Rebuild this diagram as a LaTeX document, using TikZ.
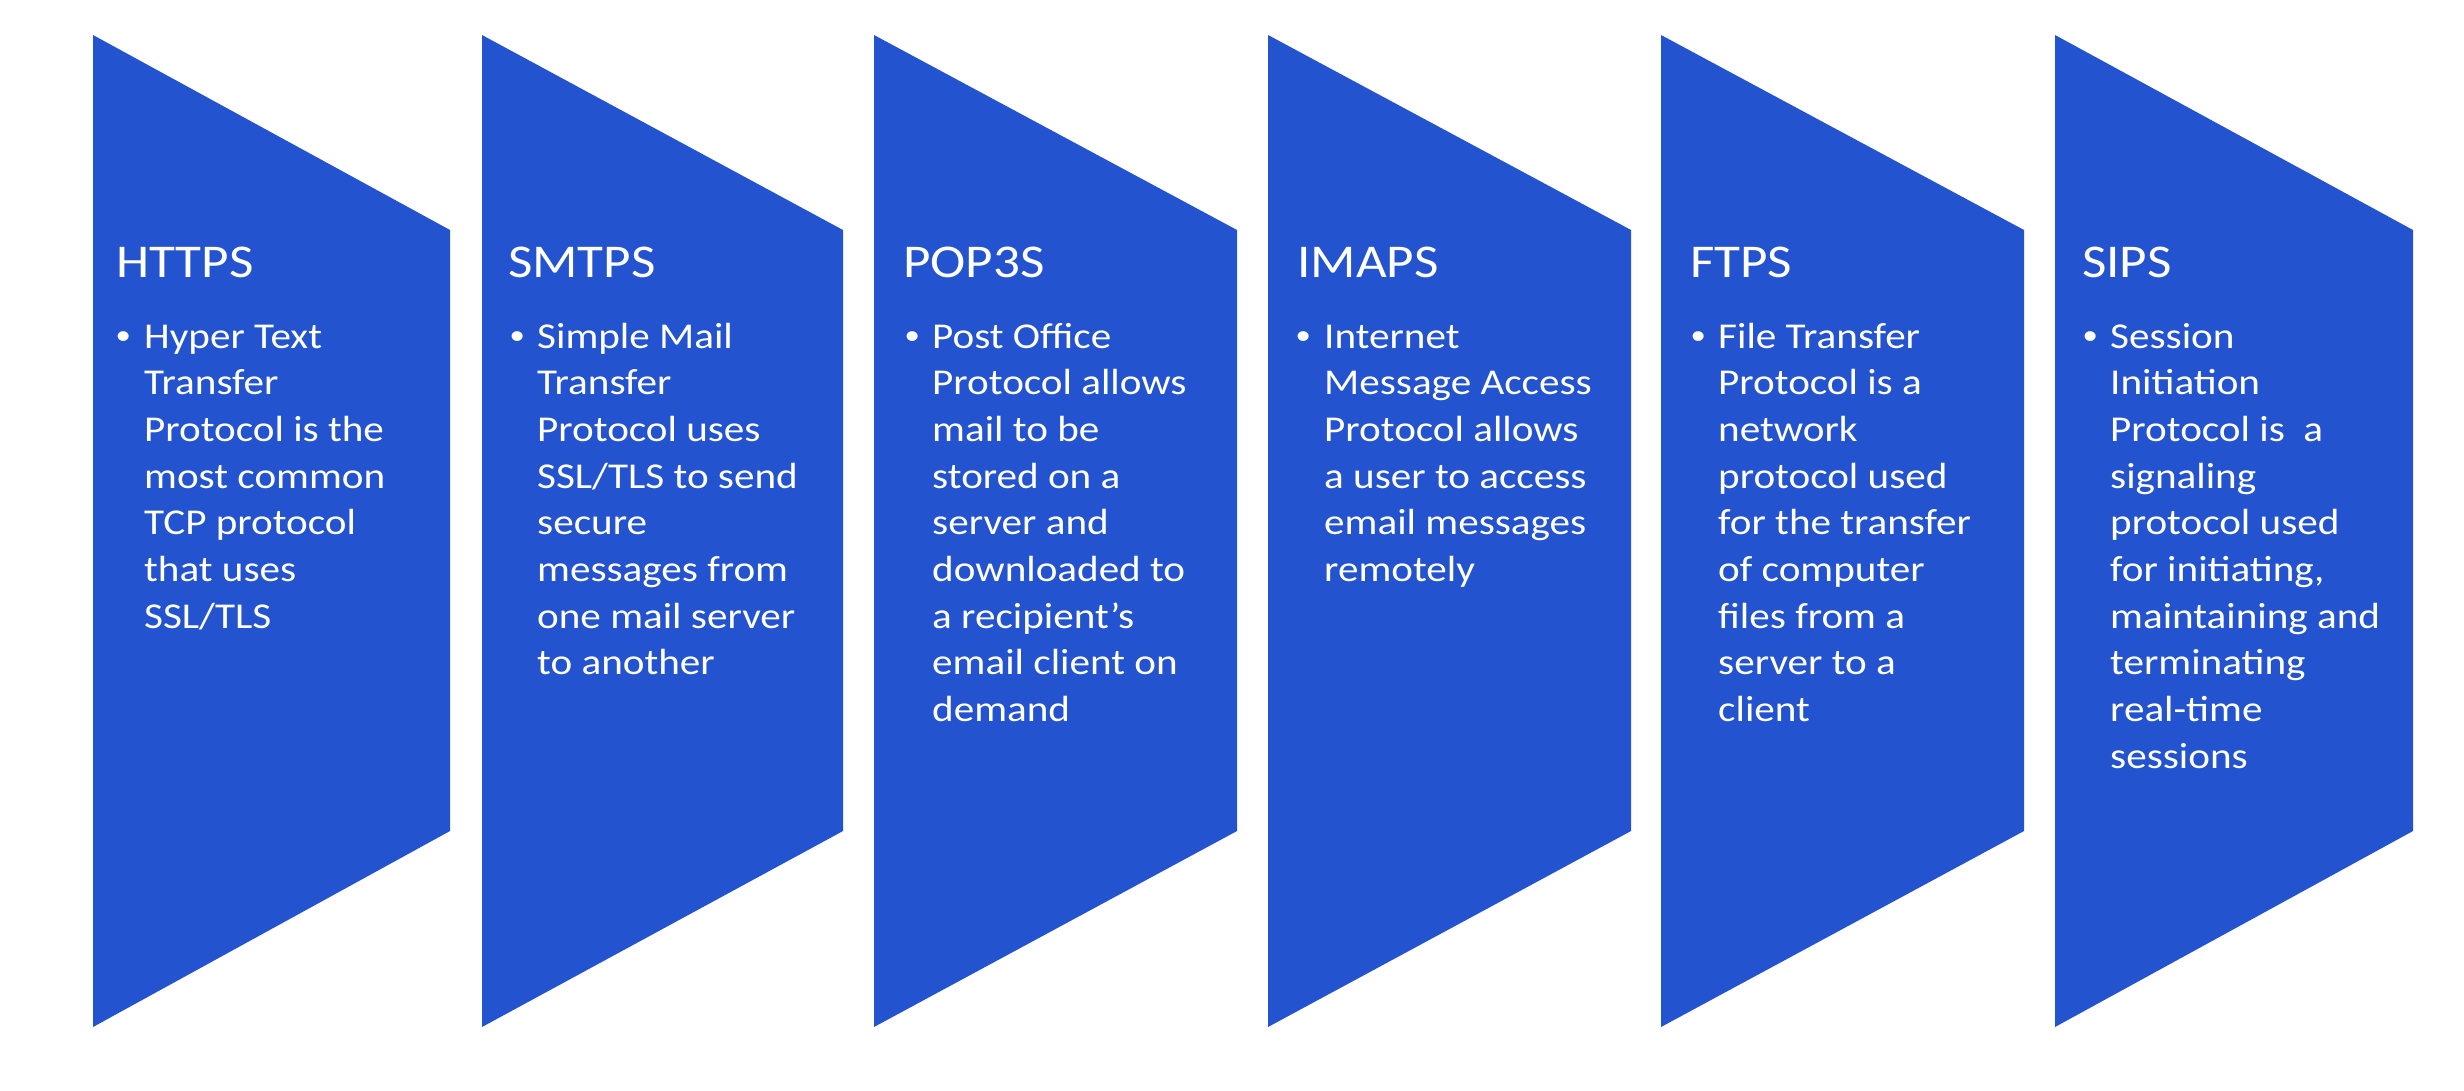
\documentclass[tikz,border=0pt]{standalone}
\usepackage{fontspec}
\setmainfont{Carlito}[FakeStretch=1.13]
\newfontfamily\bulletfont{Liberation Sans}[FakeStretch=1.13]
\definecolor{chevblue}{HTML}{2353CF}

% one chevron: #1 name, #2 left x, #3 right x
\newcommand\chevronshape[3]{%
  \fill[chevron] (#2,35) coordinate (#1-tl) -- (#3,230) coordinate (#1-tr)
    -- (#3,831) coordinate (#1-br) -- (#2,1027) coordinate (#1-bl) -- cycle;}

% baseline of the last line of a body text with #1 lines
\newcommand\lastbase[1]{348+(#1-1)*46.7}

\begin{document}
\begin{tikzpicture}[x=1pt,y=-1pt,
  chevron/.style={fill=chevblue},
  heading/.style={anchor=base west, inner sep=0pt, text=white,
    font=\fontsize{47}{56}\selectfont},
  dot/.style={anchor=base west, inner sep=0pt, text=white,
    font=\bulletfont\fontsize{36}{46}\selectfont},
  % multi-line body: the node's base is the baseline of its last line
  body/.style={anchor=base west, inner sep=0pt, text=white, align=left,
    font=\fontsize{36.4}{46.7}\selectfont},
]
\useasboundingbox (0,0) rectangle (2464,1090);

\chevronshape{c1}{93}{450}
\chevronshape{c2}{482}{843}
\chevronshape{c3}{874}{1237}
\chevronshape{c4}{1268}{1631}
\chevronshape{c5}{1661}{2024}
\chevronshape{c6}{2055}{2413}

% HTTPS
\node[heading] (t1) at (116,277) {HTTPS};
\node[dot] (b1) at (116,348) {•};
\node[body] (d1) at (144,{\lastbase{7}}) {Hyper Text\\Transfer\\Protocol is the\\most common\\TCP protocol\\that uses\\SSL/TLS};

% SMTPS
\node[heading] (t2) at (508,277) {SMTPS};
\node[dot] (b2) at (510,348) {•};
\node[body] (d2) at (537,{\lastbase{8}}) {Simple Mail\\Transfer\\Protocol uses\\SSL/TLS to send\\secure\\messages from\\one mail server\\to another};

% POP3S
\node[heading] (t3) at (903,277) {POP3S};
\node[dot] (b3) at (905,348) {•};
\node[body] (d3) at (932,{\lastbase{9}}) {Post Office\\Protocol allows\\mail to be\\stored on a\\server and\\downloaded to\\a recipient’s\\email client on\\demand};

% IMAPS
\node[heading] (t4) at (1297,277) {IMAPS};
\node[dot] (b4) at (1296,348) {•};
\node[body] (d4) at (1324,{\lastbase{6}}) {Internet\\Message Access\\Protocol allows\\a user to access\\email messages\\remotely};

% FTPS
\node[heading] (t5) at (1690,277) {FTPS};
\node[dot] (b5) at (1691,348) {•};
\node[body] (d5) at (1718,{\lastbase{9}}) {File Transfer\\Protocol is a\\network\\protocol used\\for the transfer\\of computer\\files from a\\server to a\\client};

% SIPS
\node[heading] (t6) at (2082,277) {SIPS};
\node[dot] (b6) at (2083,348) {•};
\node[body] (d6) at (2110,{\lastbase{10}}) {Session\\Initiation\\Protocol is\ \ a\\signaling\\protocol used\\for initiating,\\maintaining and\\terminating\\real-time\\sessions};
\end{tikzpicture}
\end{document}
